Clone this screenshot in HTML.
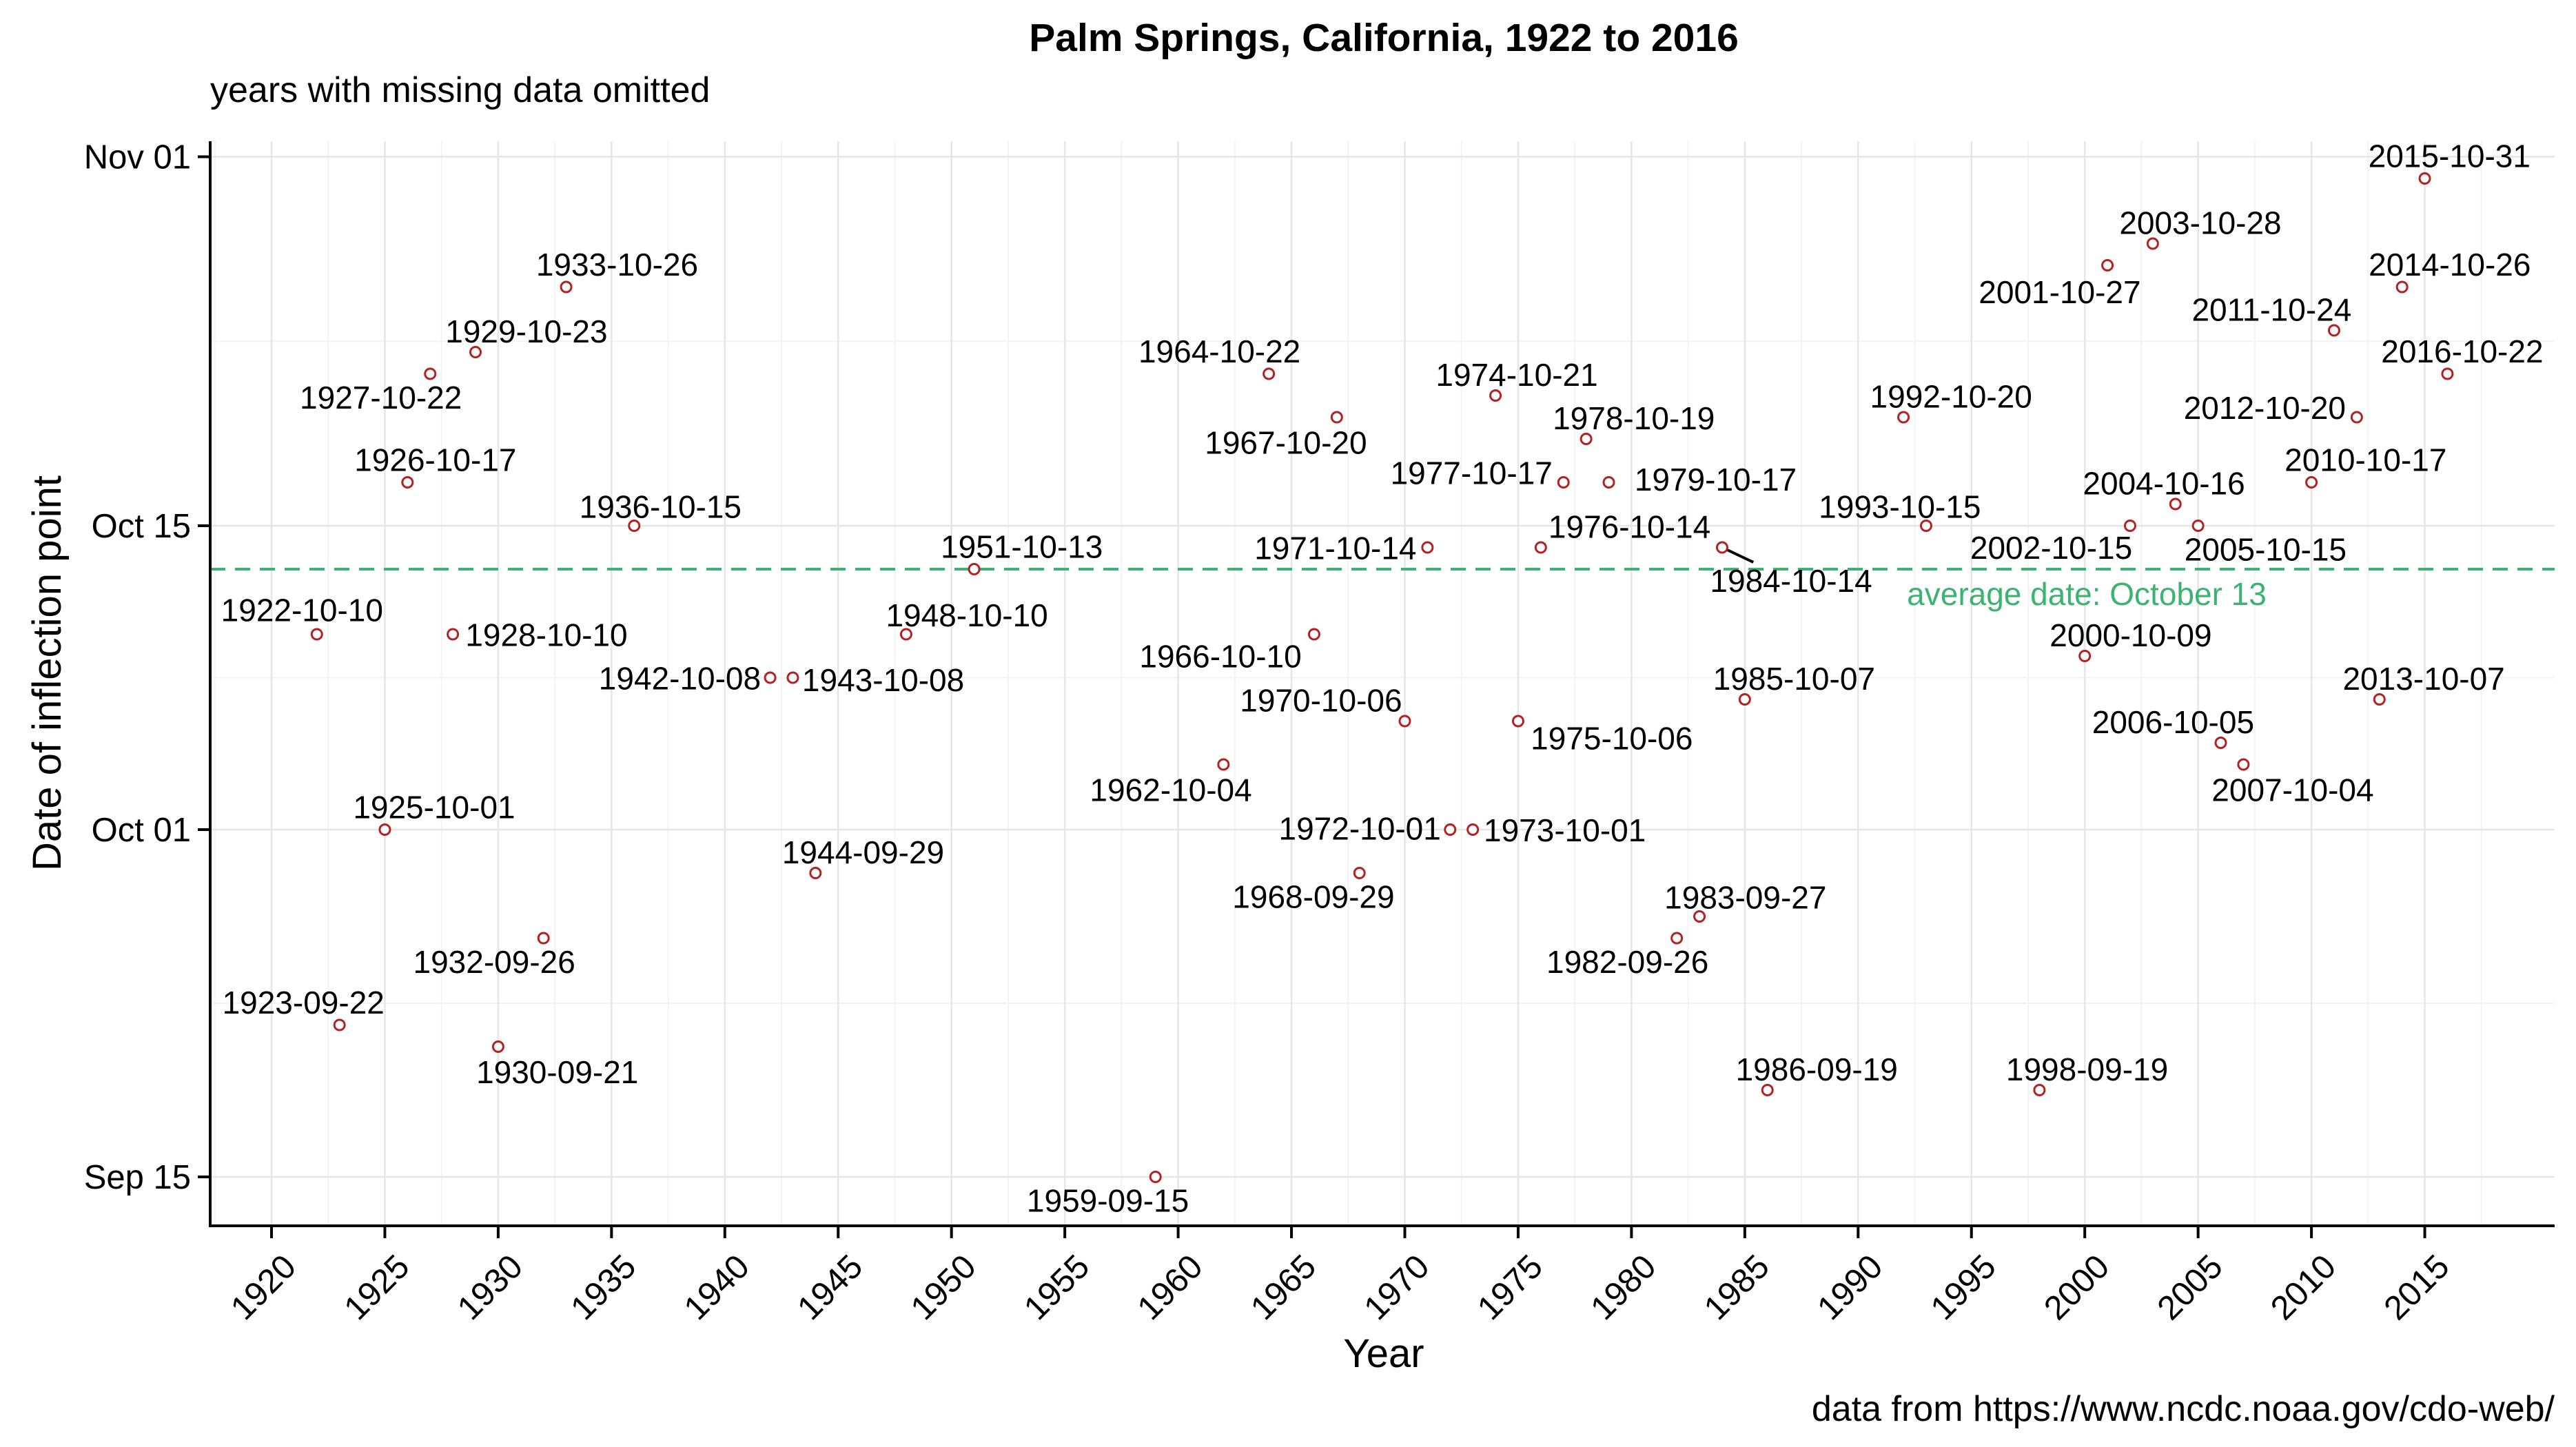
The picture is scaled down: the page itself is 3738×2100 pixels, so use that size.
<!DOCTYPE html>
<html><head><meta charset="utf-8"><style>
html,body{margin:0;padding:0;background:#fff}
svg{display:block;font-family:"Liberation Sans",Arial,sans-serif}
</style></head><body>
<svg id="chart" width="3738" height="2100" viewBox="0 0 3738 2100" xmlns="http://www.w3.org/2000/svg">
<text x="2008" y="74" text-anchor="middle" font-size="57" font-weight="bold">Palm Springs, California, 1922 to 2016</text>
<text x="305" y="148" font-size="52">years with missing data omitted</text>
<text x="3707" y="2062" text-anchor="end" font-size="52">data from https://www.ncdc.noaa.gov/cdo-web/</text>
<text x="2008" y="1984" text-anchor="middle" font-size="58">Year</text>
<text transform="translate(88,977) rotate(-90)" text-anchor="middle" font-size="58">Date of inflection point</text>
<g id="grid"></g>
<g id="avg"></g>
<g id="marks"></g>
<g id="axes"></g>
</svg>
<script>
const dates = ["1922-10-10","1923-09-22","1925-10-01","1926-10-17","1927-10-22","1928-10-10","1929-10-23","1930-09-21","1932-09-26","1933-10-26","1936-10-15","1942-10-08","1943-10-08","1944-09-29","1948-10-10","1951-10-13","1959-09-15","1962-10-04","1964-10-22","1966-10-10","1967-10-20","1968-09-29","1970-10-06","1971-10-14","1972-10-01","1973-10-01","1974-10-21","1975-10-06","1976-10-14","1977-10-17","1978-10-19","1979-10-17","1982-09-26","1983-09-27","1984-10-14","1985-10-07","1986-09-19","1992-10-20","1993-10-15","1998-09-19","2000-10-09","2001-10-27","2002-10-15","2003-10-28","2004-10-16","2005-10-15","2006-10-05","2007-10-04","2010-10-17","2011-10-24","2012-10-20","2013-10-07","2014-10-26","2015-10-31","2016-10-22"];
const xTicks = [1920,1925,1930,1935,1940,1945,1950,1955,1960,1965,1970,1975,1980,1985,1990,1995,2000,2005,2010,2015];
const yTickDays = [-16,0,14,31];
const yTickLabels = ["Sep 15","Oct 01","Oct 15","Nov 01"];
const avgDay = 12;
const avgLabel = "average date: October 13";
// label offsets (layout, display units relative to point)
const labelOffsets = [[-9,-15],[-22,-14],[30,-14],[17,-14],[-30,14],[57,0],[31,-13],[36,15],[-30,14],[31,-14],[16,-12],[-55,0],[55,1],[29,-13],[37,-12],[29,-14],[-29,14],[-32,15],[-30,-14],[-57,13],[-31,15],[-28,14],[-51,-13],[-56,0],[-55,-1],[56,0],[13,-13],[57,10],[54,-13],[-56,-6],[29,-13],[65,-2],[-30,14],[28,-12],[42,20],[30,-13],[30,-13],[29,-13],[-16,-12],[29,-13],[28,-13],[-29,16],[-48,13],[29,-13],[-7,-13],[41,14],[-29,-13],[30,15],[33,-14],[-38,-13],[-56,-6],[27,-13],[29,-14],[15,-14],[9,-14]];
const S = 2.384;
const L=305,R=3707,T=205,B=1779;
const xs = y => 394 + (y-1920)*32.89;
const ys = d => 1204 - d*31.5;
const NS="http://www.w3.org/2000/svg";
function mk(tag, attrs, parent){const e=document.createElementNS(NS,tag);for(const k in attrs)e.setAttribute(k,attrs[k]);parent.appendChild(e);return e;}
function dayOffset(s){const m=+s.slice(5,7), d=+s.slice(8,10); if(m===9) return d-31; if(m===10) return d-1; return 30+d;}
const grid=document.getElementById('grid'), marks=document.getElementById('marks'), axes=document.getElementById('axes'), avg=document.getElementById('avg');
for(let y=1917.5;y<=2022;y+=5){const x=xs(y);if(x>L&&x<R){const g=mk('line',{x1:x,x2:x,y1:T,y2:B,stroke:'#f3f3f3','stroke-width':2},grid);

}}
[-23.5,-8,7,22.5].forEach(d=>{const y=ys(d);if(y>T&&y<B){const g=mk('line',{x1:L,x2:R,y1:y,y2:y,stroke:'#f3f3f3','stroke-width':2},grid);

}});
xTicks.forEach(t=>{const x=xs(t);const g=mk('line',{x1:x,x2:x,y1:T,y2:B,stroke:'#e6e6e6','stroke-width':2.5},grid);


const tk=mk('line',{x1:x,x2:x,y1:B,y2:B+18,stroke:'#000','stroke-width':4},axes);


const tx=mk('text',{transform:`translate(${x+14},${B+38}) rotate(-45)`,'text-anchor':'end','font-size':49,'dominant-baseline':'hanging'},axes);
tx.textContent=t;

});
yTickDays.forEach((d,i)=>{const y=ys(d);const g=mk('line',{x1:L,x2:R,y1:y,y2:y,stroke:'#e6e6e6','stroke-width':2.5},grid);


const tk=mk('line',{x1:L-18,x2:L,y1:y,y2:y,stroke:'#000','stroke-width':4},axes);


const tx=mk('text',{x:L-28,y:y+17,'text-anchor':'end','font-size':49},axes);
tx.textContent=yTickLabels[i];

});
const ax1=mk('line',{x1:L,x2:L,y1:T,y2:B+2,stroke:'#000','stroke-width':4},axes);


const ax2=mk('line',{x1:L-2,x2:R,y1:B,y2:B,stroke:'#000','stroke-width':4},axes);


const ay=ys(avgDay);
const al=mk('line',{x1:L,x2:R,y1:ay,y2:ay,stroke:'#3cb371','stroke-width':4,'stroke-dasharray':'22 14'},avg);


const at=mk('text',{x:3028,y:ay+52,'text-anchor':'middle','font-size':46,fill:'#3cb371'},avg);
at.textContent=avgLabel;


dates.forEach((s,i)=>{const yr=+s.slice(0,4);const x=xs(yr),y=ys(dayOffset(s));
const o=labelOffsets[i];const lx=x+o[0]*S, ly=y+o[1]*S;
if(s==="1984-10-14"){const sg=mk('line',{x1:x,y1:y,x2:x+19*S,y2:y+9*S,stroke:'#000','stroke-width':4},marks);

}
const c=mk('circle',{cx:x,cy:y,r:7.5,fill:'#fff',stroke:'#b22222','stroke-width':3},marks);


const t=mk('text',{x:lx,y:ly+17,'text-anchor':'middle','font-size':46},marks);
t.textContent=s;

});
</script>
</body></html>
